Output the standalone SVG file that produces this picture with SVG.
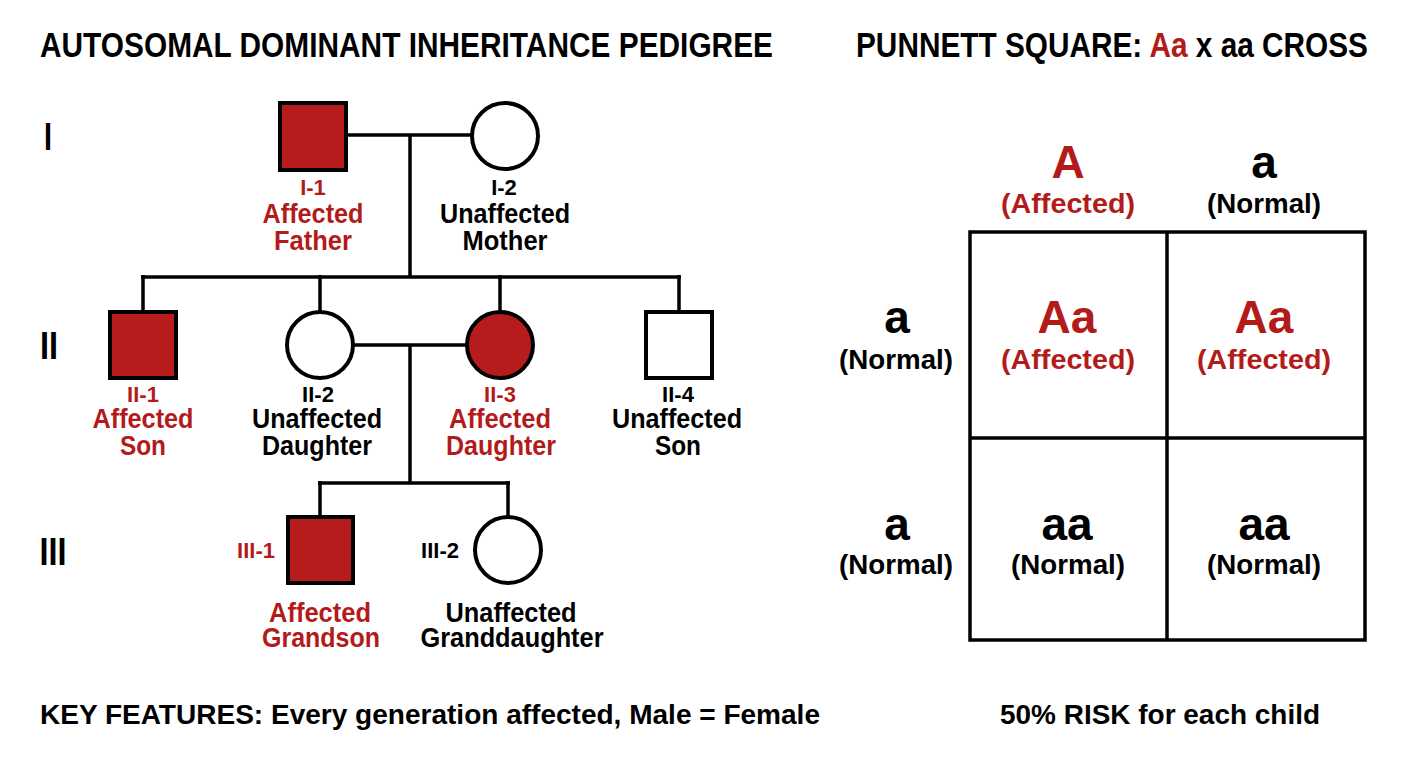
<svg xmlns="http://www.w3.org/2000/svg" width="1408" height="768" viewBox="0 0 1408 768">
<style>
text{font-family:"Liberation Sans",Arial,sans-serif;font-weight:bold;fill:#000}
.r{fill:#B31B1B}
.c{text-anchor:middle}
.t{font-size:35px}
.g{font-size:38px}
.id{font-size:22px}
.nm{font-size:27px}
.big{font-size:46px}
.lab{font-size:28px}
.aff{fill:#B71C1C;stroke:#000;stroke-width:4}
.un{fill:#fff;stroke:#000;stroke-width:4}
.ln{stroke:#000;stroke-width:3.5;fill:none}
</style>
<rect width="1408" height="768" fill="#fff"/>
<g id="titles">
<text class="t" x="40" y="57" textLength="733" lengthAdjust="spacingAndGlyphs">AUTOSOMAL DOMINANT INHERITANCE PEDIGREE</text>
<text class="t" x="856" y="57" textLength="512" lengthAdjust="spacingAndGlyphs">PUNNETT SQUARE: <tspan class="r">Aa</tspan> x aa CROSS</text>
</g>
<g id="generations">
<text class="g c" x="48" y="150" textLength="8" lengthAdjust="spacingAndGlyphs">I</text>
<text class="g c" x="49" y="359" textLength="18" lengthAdjust="spacingAndGlyphs">II</text>
<text class="g c" x="53" y="565" textLength="27" lengthAdjust="spacingAndGlyphs">III</text>
</g>
<g id="connectors">
<line class="ln" x1="347" y1="135" x2="472" y2="135"/>
<line class="ln" x1="410" y1="135" x2="410" y2="277"/>
<line class="ln" x1="141" y1="277" x2="681" y2="277"/>
<line class="ln" x1="143" y1="275" x2="143" y2="312"/>
<line class="ln" x1="320" y1="275" x2="320" y2="312"/>
<line class="ln" x1="500" y1="275" x2="500" y2="312"/>
<line class="ln" x1="679" y1="275" x2="679" y2="312"/>
<line class="ln" x1="353" y1="345" x2="467" y2="345"/>
<line class="ln" x1="410" y1="345" x2="410" y2="483"/>
<line class="ln" x1="318" y1="483" x2="510" y2="483"/>
<line class="ln" x1="320" y1="481" x2="320" y2="517"/>
<line class="ln" x1="508" y1="481" x2="508" y2="517"/>
</g>
<g id="I-1">
<rect class="aff" x="280" y="103" width="66" height="67"/>
<text class="id c r" x="313" y="195">I-1</text>
<text class="nm c r" x="313" y="223" textLength="101" lengthAdjust="spacingAndGlyphs">Affected</text>
<text class="nm c r" x="313" y="250" textLength="78" lengthAdjust="spacingAndGlyphs">Father</text>
</g>
<g id="I-2">
<circle class="un" cx="505" cy="136" r="33"/>
<text class="id c" x="504" y="195">I-2</text>
<text class="nm c" x="505" y="223" textLength="130" lengthAdjust="spacingAndGlyphs">Unaffected</text>
<text class="nm c" x="505" y="250" textLength="85" lengthAdjust="spacingAndGlyphs">Mother</text>
</g>
<g id="II-1">
<rect class="aff" x="110" y="312" width="66" height="66"/>
<text class="id c r" x="143" y="402">II-1</text>
<text class="nm c r" x="143" y="428" textLength="101" lengthAdjust="spacingAndGlyphs">Affected</text>
<text class="nm c r" x="143" y="455" textLength="46" lengthAdjust="spacingAndGlyphs">Son</text>
</g>
<g id="II-2">
<circle class="un" cx="320" cy="345" r="33"/>
<text class="id c" x="318" y="402">II-2</text>
<text class="nm c" x="317" y="428" textLength="130" lengthAdjust="spacingAndGlyphs">Unaffected</text>
<text class="nm c" x="317" y="455" textLength="110" lengthAdjust="spacingAndGlyphs">Daughter</text>
</g>
<g id="II-3">
<circle class="aff" cx="500" cy="345" r="33"/>
<text class="id c r" x="500" y="402">II-3</text>
<text class="nm c r" x="500" y="428" textLength="102" lengthAdjust="spacingAndGlyphs">Affected</text>
<text class="nm c r" x="501" y="455" textLength="110" lengthAdjust="spacingAndGlyphs">Daughter</text>
</g>
<g id="II-4">
<rect class="un" x="646" y="312" width="66" height="66"/>
<text class="id c" x="678" y="402">II-4</text>
<text class="nm c" x="677" y="428" textLength="130" lengthAdjust="spacingAndGlyphs">Unaffected</text>
<text class="nm c" x="678" y="455" textLength="46" lengthAdjust="spacingAndGlyphs">Son</text>
</g>
<g id="III-1">
<rect class="aff" x="288" y="517" width="65" height="66"/>
<text class="id c r" x="256" y="558">III-1</text>
<text class="nm c r" x="320" y="622" textLength="102" lengthAdjust="spacingAndGlyphs">Affected</text>
<text class="nm c r" x="321" y="647" textLength="118" lengthAdjust="spacingAndGlyphs">Grandson</text>
</g>
<g id="III-2">
<circle class="un" cx="508" cy="550" r="33"/>
<text class="id c" x="440" y="558">III-2</text>
<text class="nm c" x="511" y="622" textLength="131" lengthAdjust="spacingAndGlyphs">Unaffected</text>
<text class="nm c" x="512" y="647" textLength="183" lengthAdjust="spacingAndGlyphs">Granddaughter</text>
</g>
<g id="punnett">
<rect x="970" y="232" width="395" height="408" fill="none" stroke="#000" stroke-width="3.5"/>
<line class="ln" x1="1167" y1="232" x2="1167" y2="640"/>
<line class="ln" x1="970" y1="438" x2="1365" y2="438"/>
</g>
<g id="alleles">
<text class="big c r" x="1068" y="178">A</text>
<text class="lab c r" x="1068" y="213" textLength="134" lengthAdjust="spacingAndGlyphs">(Affected)</text>
<text class="big c" x="1264" y="178">a</text>
<text class="lab c" x="1264" y="213" textLength="114" lengthAdjust="spacingAndGlyphs">(Normal)</text>
<text class="big c" x="897" y="333">a</text>
<text class="lab c" x="896" y="369" textLength="114" lengthAdjust="spacingAndGlyphs">(Normal)</text>
<text class="big c" x="897" y="540">a</text>
<text class="lab c" x="896" y="574" textLength="114" lengthAdjust="spacingAndGlyphs">(Normal)</text>
</g>
<g id="cells">
<text class="big c r" x="1067" y="333">Aa</text>
<text class="lab c r" x="1068" y="369" textLength="134" lengthAdjust="spacingAndGlyphs">(Affected)</text>
<text class="big c r" x="1264" y="333">Aa</text>
<text class="lab c r" x="1264" y="369" textLength="134" lengthAdjust="spacingAndGlyphs">(Affected)</text>
<text class="big c" x="1067" y="540">aa</text>
<text class="lab c" x="1068" y="574" textLength="114" lengthAdjust="spacingAndGlyphs">(Normal)</text>
<text class="big c" x="1264" y="540">aa</text>
<text class="lab c" x="1264" y="574" textLength="114" lengthAdjust="spacingAndGlyphs">(Normal)</text>
</g>
<g id="footer">
<text class="lab" x="40" y="724" textLength="780" lengthAdjust="spacingAndGlyphs">KEY FEATURES: Every generation affected, Male = Female</text>
<text class="lab c" x="1160" y="724" textLength="320" lengthAdjust="spacingAndGlyphs">50% RISK for each child</text>
</g>
</svg>
